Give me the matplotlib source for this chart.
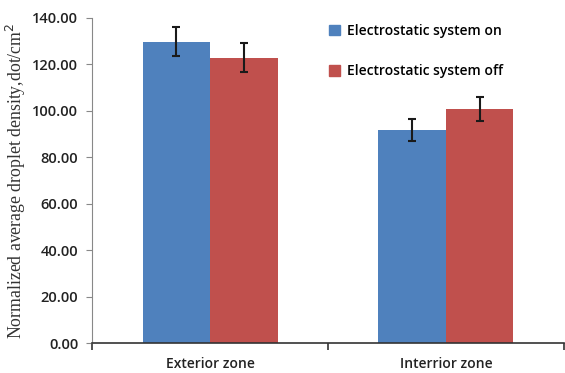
import matplotlib.pyplot as plt
import numpy as np
from matplotlib.patches import Patch

zones = ["Exterior zone", "Interrior zone"]
series = ["Electrostatic system on", "Electrostatic system off"]
on_vals = [129.8, 91.8]
off_vals = [122.8, 100.9]
on_err = [6.3, 4.8]
off_err = [6.2, 5.2]
y_ticks = [0, 20, 40, 60, 80, 100, 120, 140]

blue = "#4F81BD"
red = "#C0504D"

fig = plt.figure(figsize=(5.65, 3.73), dpi=100)
ax = fig.add_axes([0.163, 0.080, 0.835, 0.872])

x = np.arange(len(zones))
w = 0.286
ebar = dict(ecolor="#1a1a1a", elinewidth=1.5, capsize=3, capthick=1.5)
ax.bar(x - w / 2, on_vals, w, color=blue, yerr=on_err, error_kw=ebar)
ax.bar(x + w / 2, off_vals, w, color=red, yerr=off_err, error_kw=ebar)

ax.set_xlim(-0.5, 1.5)
ax.set_ylim(0, 140)
ax.set_yticks(y_ticks)
ax.set_yticklabels([f"{v:.2f}" for v in y_ticks], fontfamily="Open Sans",
                   fontsize=10.5, fontweight="semibold", color="#222222")
ax.set_xticks([-0.5, 0.5, 1.5])
ax.set_xticklabels([])
ax.set_xticks(x, minor=True)
ax.set_xticklabels(zones, minor=True, fontfamily="Open Sans", fontsize=10,
                   fontweight="semibold", color="#222222")
ax.tick_params(axis="x", which="minor", length=0, pad=10)
ax.tick_params(axis="x", which="major", direction="out", length=5, width=1.2, color="#333333")
ax.tick_params(axis="y", direction="out", length=4, color="#888888", pad=6)

for s in ["top", "right"]:
    ax.spines[s].set_visible(False)
ax.spines["left"].set_color("#888888")
ax.spines["bottom"].set_color("#333333")
ax.spines["bottom"].set_linewidth(1.2)

ax.set_ylabel("Normalized average droplet density,dot/cm$^2$",
              fontfamily="Liberation Serif", fontsize=12.8, color="#333333", labelpad=3)

handles = [Patch(color=blue), Patch(color=red)]
fig.legend(handles, series, loc="upper left", bbox_to_anchor=(0.56, 0.97),
           frameon=False, handlelength=0.8, handleheight=0.8, handletextpad=0.5,
           labelspacing=1.9, prop=dict(family="Open Sans", size=10, weight="semibold"))

fig.savefig("out.png", dpi=100)
